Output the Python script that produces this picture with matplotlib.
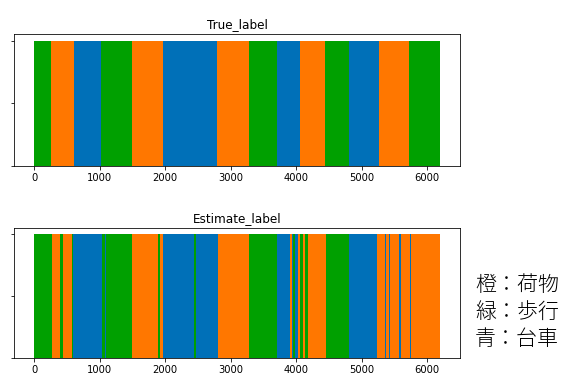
import matplotlib
matplotlib.use("Agg")
import matplotlib.pyplot as plt

# segment start index and label for each run (O: 荷物, G: 歩行, B: 台車)
n_samples = 6190

true_starts = [0, 250, 614, 1023, 1494, 1959, 2793, 3284, 3708, 4061, 4445, 4808, 5258, 5724]
true_labels = ["G", "O", "B", "G", "O", "B", "O", "G", "B", "O", "G", "B", "O", "G"]

est_starts = [0, 267, 394, 445, 574, 598, 1034, 1074, 1090, 1495, 1893, 1918, 1964,
              2440, 2466, 2808, 3275, 3704, 3908, 3934, 3954, 3985, 4027, 4051,
              4103, 4128, 4180, 4461, 4809, 5228, 5355, 5371, 5417, 5432, 5561,
              5601, 5739, 5754]
est_labels = ["G", "O", "G", "O", "G", "B", "G", "B", "G", "O", "G", "O", "B",
              "G", "B", "O", "G", "B", "O", "B", "G", "B", "O", "G",
              "O", "G", "O", "G", "B", "O", "B", "O", "B", "O", "B",
              "O", "B", "O"]

label_colors = {"O": "#ff7700", "G": "#00a000", "B": "#0070b8"}


def draw_labels(ax, starts, labels, title):
    ends = starts[1:] + [n_samples]
    widths = [e - s for s, e in zip(starts, ends)]
    colors = [label_colors[l] for l in labels]
    ax.bar(starts, [1] * len(starts), width=widths, align="edge",
           color=colors, linewidth=0)
    ax.set_title(title)
    ax.set_yticks([0, 0.5, 1])
    ax.set_yticklabels([])
    ax.set_xticks(range(0, 7000, 1000))


fig = plt.figure(figsize=(564 / 72, 378 / 72), dpi=72)
ax1 = fig.add_axes([0.0248, 0.5616, 0.7908, 0.3474])
ax2 = fig.add_axes([0.0248, 0.0529, 0.7908, 0.3441])

draw_labels(ax1, true_starts, true_labels, "True_label")
draw_labels(ax2, est_starts, est_labels, "Estimate_label")

fig.text(0.842, 0.175, "橙：荷物\n緑：歩行\n青：台車", fontsize=21,
         family=["Noto Sans CJK JP", "DejaVu Sans"], weight="light",
         va="center", ha="left", linespacing=1.3)

fig.savefig("out.png", dpi=72)
